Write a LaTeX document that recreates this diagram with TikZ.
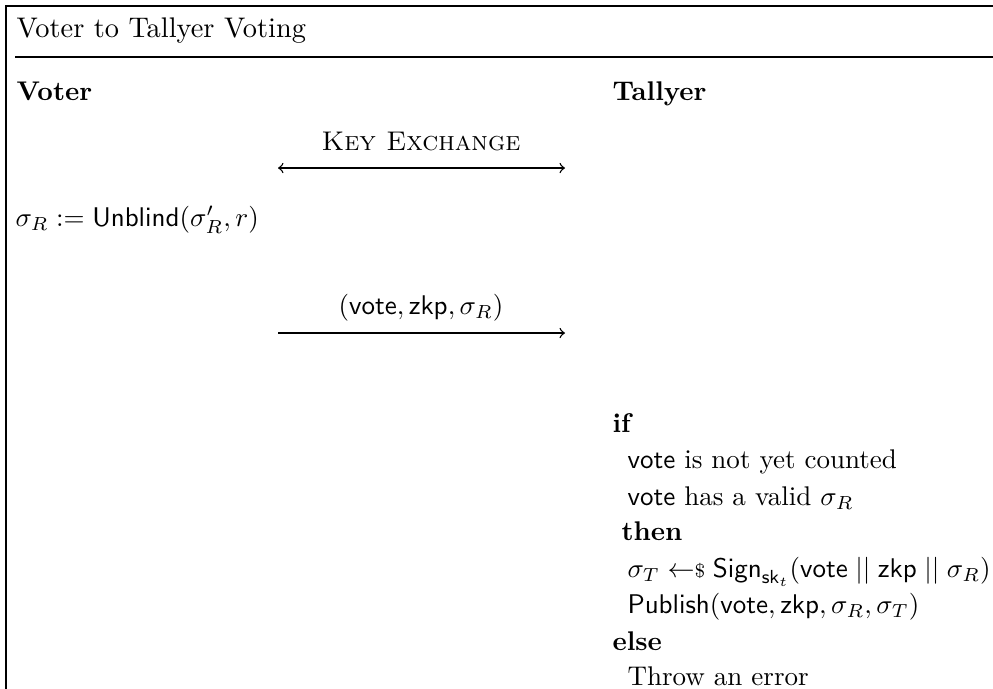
\documentclass[tikz,border=0pt]{standalone}
\usepackage{amsmath,amssymb}
\newcommand{\smpl}{\mathrel{\leftarrow\mkern-5mu{\scriptstyle\$}}}
\newcommand{\cat}{\mathrel{||}}
\begin{document}
\begin{tikzpicture}[x=0.37pt,y=-0.37pt,
  txt/.style={inner sep=0pt, anchor=base west},
  ctr/.style={inner sep=0pt, anchor=base},
  frameline/.style={line width=0.8pt},
  msg/.style={line width=0.5pt}]
\useasboundingbox (0,0) rectangle (993,688);
% frame (left and top edges) and title rule
\coordinate (fb) at (6,720);
\coordinate (ft) at (6,6);
\coordinate (fr) at (1010,6);
\draw[frameline] (fb) -- (ft) -- (fr);
\coordinate (rl) at (15,57);
\coordinate (rr) at (1010,57);
\draw[line width=0.6pt] (rl) -- (rr);
\node[txt] (title) at (16,37) {\fontsize{10.5}{12}\selectfont Voter to Tallyer Voting};
% parties
\node[txt] (voter) at (16,100) {\textbf{Voter}};
\node[txt] (tallyer) at (612,100) {\textbf{Tallyer}};
% key exchange
\node[ctr] (kx) at (421,150) {\textsc{Key Exchange}};
\coordinate (kxl) at (278,168);
\coordinate (kxr) at (565,168);
\draw[msg,<->] (kxl) -- (kxr);
% unblinding
\node[txt] (unb) at (15,226) {$\sigma_R := \mathsf{Unblind}(\sigma'_R, r)$};
% ballot message
\node[ctr] (ballot) at (421,314) {$(\mathsf{vote}, \mathsf{zkp}, \sigma_R)$};
\coordinate (bl) at (278,333);
\coordinate (br) at (565,333);
\draw[msg,->] (bl) -- (br);
% tallyer checks
\node[txt] (if) at (612,432) {\textbf{if}};
\node[txt] (c1) at (627,468) {$\mathsf{vote}$ is not yet counted};
\node[txt] (c2) at (627,505) {$\mathsf{vote}$ has a valid $\sigma_R$};
\node[txt] (then) at (621,540) {\textbf{then}};
\node[txt] (sg) at (627,577) {$\sigma_T \smpl \mathsf{Sign}_{\mathsf{sk}_t}(\mathsf{vote} \cat \mathsf{zkp} \cat \sigma_R)$};
\node[txt] (pub) at (627,613) {$\mathsf{Publish}(\mathsf{vote}, \mathsf{zkp}, \sigma_R, \sigma_T)$};
\node[txt] (else) at (612,650) {\textbf{else}};
\node[txt] (err) at (627,685) {Throw an error};
\end{tikzpicture}
\end{document}
